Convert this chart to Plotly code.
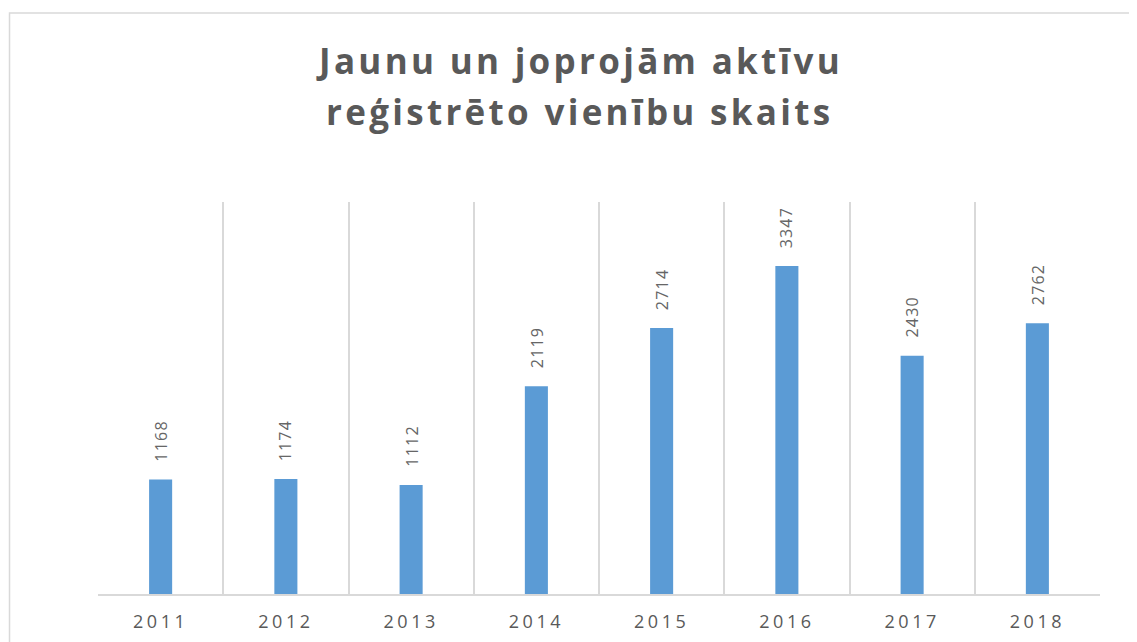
import plotly.graph_objects as go

years = ["2011", "2012", "2013", "2014", "2015", "2016", "2017", "2018"]
values = [1168, 1174, 1112, 2119, 2714, 3347, 2430, 2762]
title_lines = ["Jaunu un joprojām aktīvu", "reģistrēto vienību skaits"]

GRAY = "#595959"


def spaced(s, px):
    return f'<span style="letter-spacing:{px}px">{s}</span>'


fig = go.Figure(go.Bar(
    x=years, y=values,
    marker=dict(color="#5B9BD5", line=dict(width=0)),
    hoverinfo="x+y",
))

# data labels (rotated, above bars); category axis annotations use the category index
for i, v in enumerate(values):
    fig.add_annotation(
        x=i, y=v, text=spaced(str(v), 1.2), showarrow=False,
        textangle=-90, yanchor="bottom", xanchor="center", yshift=16,
        font=dict(family="Open Sans", size=16, color="#666666"),
    )

# two-line title
for ty, line in zip([1.3597, 1.2321], title_lines):
    fig.add_annotation(
        xref="paper", yref="paper", x=0.4805, y=ty,
        xanchor="center", yanchor="middle", showarrow=False,
        text="<b>" + spaced(line, 3.3) + "</b>",
        font=dict(family="Open Sans", size=35, color=GRAY),
    )

fig.update_layout(
    width=1137, height=642,
    margin=dict(l=90, r=45, t=194, b=56),
    paper_bgcolor="white", plot_bgcolor="white",
    bargap=0.816,
    showlegend=False,
    xaxis=dict(
        type="category", tickson="boundaries",
        tickmode="array", tickvals=years,
        ticktext=[spaced(y, 3.5) for y in years],
        showgrid=True, gridcolor="#d9d9d9", gridwidth=1.5,
        showline=True, linecolor="#d9d9d9", linewidth=1.5,
        ticks="", ticklabelstandoff=11,
        tickfont=dict(family="Open Sans", size=18, color=GRAY),
        range=[-0.5, 7.5],
    ),
    yaxis=dict(range=[0, 4000], showgrid=False, showticklabels=False,
               zeroline=False, showline=False, ticks=""),
    shapes=[dict(type="rect", xref="paper", yref="paper",
                 x0=-0.0883, x1=1.2, y0=-0.3, y1=1.482,
                 line=dict(color="#d9d9d9", width=1.5), layer="below")],
)

fig.write_html("out.html")
